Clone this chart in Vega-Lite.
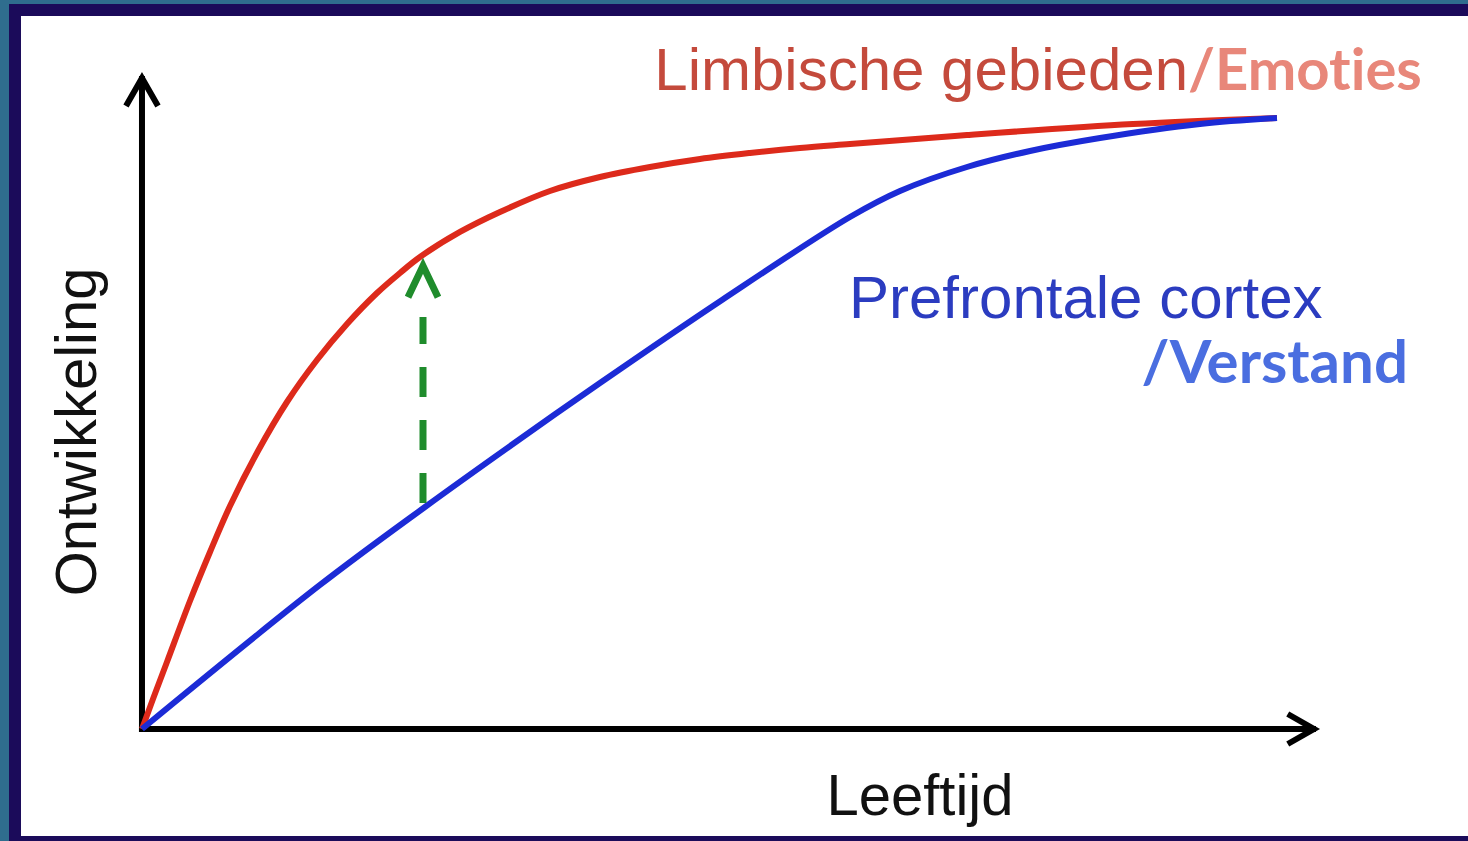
{
  "$schema": "https://vega.github.io/schema/vega-lite/v6.json",
  "width": 1459,
  "height": 837,
  "autosize": {"type": "none"},
  "padding": {"left": 9, "top": 4, "right": 0, "bottom": 0},
  "background": "#2f6d8e",
  "config": {"view": {"fill": "#1b0b5a", "stroke": null}},
  "datasets": {
    "curves": [
      {"curve": "Limbische gebieden", "leeftijd": 0, "ontwikkeling": 0},
      {"curve": "Limbische gebieden", "leeftijd": 0.234, "ontwikkeling": 4.57},
      {"curve": "Limbische gebieden", "leeftijd": 0.531, "ontwikkeling": 10.2},
      {"curve": "Limbische gebieden", "leeftijd": 1.02, "ontwikkeling": 19.48},
      {"curve": "Limbische gebieden", "leeftijd": 1.446, "ontwikkeling": 26.94},
      {"curve": "Limbische gebieden", "leeftijd": 1.871, "ontwikkeling": 33.94},
      {"curve": "Limbische gebieden", "leeftijd": 2.466, "ontwikkeling": 42.31},
      {"curve": "Limbische gebieden", "leeftijd": 3.082, "ontwikkeling": 49.77},
      {"curve": "Limbische gebieden", "leeftijd": 3.72, "ontwikkeling": 56.16},
      {"curve": "Limbische gebieden", "leeftijd": 4.358, "ontwikkeling": 61.64},
      {"curve": "Limbische gebieden", "leeftijd": 4.996, "ontwikkeling": 66.36},
      {"curve": "Limbische gebieden", "leeftijd": 5.485, "ontwikkeling": 69.41},
      {"curve": "Limbische gebieden", "leeftijd": 5.91, "ontwikkeling": 71.84},
      {"curve": "Limbische gebieden", "leeftijd": 6.76, "ontwikkeling": 75.65},
      {"curve": "Limbische gebieden", "leeftijd": 7.61, "ontwikkeling": 78.69},
      {"curve": "Limbische gebieden", "leeftijd": 8.673, "ontwikkeling": 81.89},
      {"curve": "Limbische gebieden", "leeftijd": 9.736, "ontwikkeling": 84.02},
      {"curve": "Limbische gebieden", "leeftijd": 10.799, "ontwikkeling": 85.54},
      {"curve": "Limbische gebieden", "leeftijd": 11.862, "ontwikkeling": 86.76},
      {"curve": "Limbische gebieden", "leeftijd": 12.925, "ontwikkeling": 87.67},
      {"curve": "Limbische gebieden", "leeftijd": 13.988, "ontwikkeling": 88.43},
      {"curve": "Limbische gebieden", "leeftijd": 15.051, "ontwikkeling": 89.04},
      {"curve": "Limbische gebieden", "leeftijd": 17.538, "ontwikkeling": 90.41},
      {"curve": "Limbische gebieden", "leeftijd": 21.067, "ontwikkeling": 92.09},
      {"curve": "Limbische gebieden", "leeftijd": 24.128, "ontwikkeling": 93.0},
      {"curve": "Prefrontale cortex", "leeftijd": 0, "ontwikkeling": 0},
      {"curve": "Prefrontale cortex", "leeftijd": 3.784, "ontwikkeling": 21.92},
      {"curve": "Prefrontale cortex", "leeftijd": 6.016, "ontwikkeling": 33.79},
      {"curve": "Prefrontale cortex", "leeftijd": 8.036, "ontwikkeling": 44.14},
      {"curve": "Prefrontale cortex", "leeftijd": 9.736, "ontwikkeling": 52.66},
      {"curve": "Prefrontale cortex", "leeftijd": 12.33, "ontwikkeling": 65.3},
      {"curve": "Prefrontale cortex", "leeftijd": 15.051, "ontwikkeling": 77.93},
      {"curve": "Prefrontale cortex", "leeftijd": 16.114, "ontwikkeling": 81.89},
      {"curve": "Prefrontale cortex", "leeftijd": 17.538, "ontwikkeling": 85.54},
      {"curve": "Prefrontale cortex", "leeftijd": 18.878, "ontwikkeling": 87.98},
      {"curve": "Prefrontale cortex", "leeftijd": 20.366, "ontwikkeling": 89.95},
      {"curve": "Prefrontale cortex", "leeftijd": 22.491, "ontwikkeling": 92.09},
      {"curve": "Prefrontale cortex", "leeftijd": 24.128, "ontwikkeling": 93.0}
    ],
    "one": [{}]
  },
  "layer": [
    {
      "data": {"name": "one"},
      "mark": {"type": "rect", "color": "#ffffff"},
      "encoding": {
        "x": {"datum": -2.572, "type": "quantitative", "axis": null, "scale": {"domain": [-2.827, 28.189], "nice": false, "zero": false}},
        "x2": {"datum": 28.189},
        "y": {"datum": -16.29, "type": "quantitative", "axis": null, "scale": {"domain": [-17.05, 110.35], "nice": false, "zero": false}},
        "y2": {"datum": 108.52}
      }
    },
    {
      "data": {"name": "one"},
      "mark": {"type": "rule", "color": "#000000", "strokeWidth": 6},
      "encoding": {
        "x": {"datum": -0.064, "type": "quantitative", "axis": null, "scale": {"domain": [-2.827, 28.189], "nice": false, "zero": false}},
        "x2": {"datum": 24.957},
        "y": {"datum": 0, "type": "quantitative", "axis": null, "scale": {"domain": [-17.05, 110.35], "nice": false, "zero": false}}
      }
    },
    {
      "data": {"name": "one"},
      "mark": {"type": "rule", "color": "#000000", "strokeWidth": 6},
      "encoding": {
        "x": {"datum": 0, "type": "quantitative", "axis": null, "scale": {"domain": [-2.827, 28.189], "nice": false, "zero": false}},
        "y": {"datum": -0.457, "type": "quantitative", "axis": null, "scale": {"domain": [-17.05, 110.35], "nice": false, "zero": false}},
        "y2": {"datum": 99.4}
      }
    },
    {
      "data": {"name": "one"},
      "mark": {"type": "point", "shape": "M-1,1.75L0,0L1,1.75", "filled": false, "color": "#000000", "strokeWidth": 6, "size": 1024, "opacity": 1, "strokeJoin": "miter"},
      "encoding": {
        "x": {"datum": 0, "type": "quantitative", "axis": null, "scale": {"domain": [-2.827, 28.189], "nice": false, "zero": false}},
        "y": {"datum": 99.09, "type": "quantitative", "axis": null, "scale": {"domain": [-17.05, 110.35], "nice": false, "zero": false}}
      }
    },
    {
      "data": {"name": "one"},
      "mark": {"type": "point", "shape": "M-1,1.75L0,0L1,1.75", "filled": false, "color": "#000000", "strokeWidth": 6, "size": 900, "opacity": 1, "strokeJoin": "miter", "angle": 90},
      "encoding": {
        "x": {"datum": 24.915, "type": "quantitative", "axis": null, "scale": {"domain": [-2.827, 28.189], "nice": false, "zero": false}},
        "y": {"datum": 0, "type": "quantitative", "axis": null, "scale": {"domain": [-17.05, 110.35], "nice": false, "zero": false}}
      }
    },
    {
      "data": {"name": "curves"},
      "transform": [{"filter": "datum.curve === 'Limbische gebieden'"}],
      "mark": {"type": "line", "color": "#dd2a1b", "strokeWidth": 6, "interpolate": "catmull-rom"},
      "encoding": {
        "x": {"field": "leeftijd", "type": "quantitative", "axis": null, "scale": {"domain": [-2.827, 28.189], "nice": false, "zero": false}},
        "y": {"field": "ontwikkeling", "type": "quantitative", "axis": null, "scale": {"domain": [-17.05, 110.35], "nice": false, "zero": false}}
      }
    },
    {
      "data": {"name": "curves"},
      "transform": [{"filter": "datum.curve === 'Prefrontale cortex'"}],
      "mark": {"type": "line", "color": "#1c2bd6", "strokeWidth": 6, "interpolate": "catmull-rom"},
      "encoding": {
        "x": {"field": "leeftijd", "type": "quantitative", "axis": null, "scale": {"domain": [-2.827, 28.189], "nice": false, "zero": false}},
        "y": {"field": "ontwikkeling", "type": "quantitative", "axis": null, "scale": {"domain": [-17.05, 110.35], "nice": false, "zero": false}}
      }
    },
    {
      "data": {"name": "one"},
      "mark": {"type": "rule", "color": "#1f8c2c", "strokeWidth": 7, "strokeDash": [30, 23]},
      "encoding": {
        "x": {"datum": 5.974, "type": "quantitative", "axis": null, "scale": {"domain": [-2.827, 28.189], "nice": false, "zero": false}},
        "y": {"datum": 34.4, "type": "quantitative", "axis": null, "scale": {"domain": [-17.05, 110.35], "nice": false, "zero": false}},
        "y2": {"datum": 62.71}
      }
    },
    {
      "data": {"name": "one"},
      "mark": {"type": "point", "shape": "M-1,2.1L0,0L1,2.1", "filled": false, "color": "#1f8c2c", "strokeWidth": 7, "size": 900, "opacity": 1, "strokeJoin": "miter"},
      "encoding": {
        "x": {"datum": 5.974, "type": "quantitative", "axis": null, "scale": {"domain": [-2.827, 28.189], "nice": false, "zero": false}},
        "y": {"datum": 70.5, "type": "quantitative", "axis": null, "scale": {"domain": [-17.05, 110.35], "nice": false, "zero": false}}
      }
    },
    {
      "data": {"name": "one"},
      "mark": {"type": "text", "text": "Limbische gebieden", "font": "Liberation Sans", "fontSize": 60, "color": "#c44a3c", "align": "right", "baseline": "alphabetic"},
      "encoding": {
        "x": {"datum": 22.237, "type": "quantitative", "axis": null, "scale": {"domain": [-2.827, 28.189], "nice": false, "zero": false}},
        "y": {"datum": 97.26, "type": "quantitative", "axis": null, "scale": {"domain": [-17.05, 110.35], "nice": false, "zero": false}}
      }
    },
    {
      "data": {"name": "one"},
      "mark": {"type": "text", "text": "/Emot\u200cies", "font": "Lato", "fontWeight": "bold", "fontSize": 58, "color": "#e8877a", "align": "left", "baseline": "alphabetic"},
      "encoding": {
        "x": {"datum": 22.237, "type": "quantitative", "axis": null, "scale": {"domain": [-2.827, 28.189], "nice": false, "zero": false}},
        "y": {"datum": 97.26, "type": "quantitative", "axis": null, "scale": {"domain": [-17.05, 110.35], "nice": false, "zero": false}}
      }
    },
    {
      "data": {"name": "one"},
      "mark": {"type": "text", "text": "Prefrontale cortex", "font": "Liberation Sans", "fontSize": 60, "color": "#2b3cc0", "align": "left", "baseline": "alphabetic"},
      "encoding": {
        "x": {"datum": 15.03, "type": "quantitative", "axis": null, "scale": {"domain": [-2.827, 28.189], "nice": false, "zero": false}},
        "y": {"datum": 62.56, "type": "quantitative", "axis": null, "scale": {"domain": [-17.05, 110.35], "nice": false, "zero": false}}
      }
    },
    {
      "data": {"name": "one"},
      "mark": {"type": "text", "text": "/Verstand", "font": "Lato", "fontWeight": "bold", "fontSize": 60, "color": "#4a6ee0", "align": "right", "baseline": "alphabetic"},
      "encoding": {
        "x": {"datum": 26.913, "type": "quantitative", "axis": null, "scale": {"domain": [-2.827, 28.189], "nice": false, "zero": false}},
        "y": {"datum": 52.66, "type": "quantitative", "axis": null, "scale": {"domain": [-17.05, 110.35], "nice": false, "zero": false}}
      }
    },
    {
      "data": {"name": "one"},
      "mark": {"type": "text", "text": "Ontwikkeling", "font": "Liberation Sans", "fontSize": 58, "color": "#111111", "align": "center", "baseline": "alphabetic", "angle": 270},
      "encoding": {
        "x": {"datum": -0.978, "type": "quantitative", "axis": null, "scale": {"domain": [-2.827, 28.189], "nice": false, "zero": false}},
        "y": {"datum": 45.21, "type": "quantitative", "axis": null, "scale": {"domain": [-17.05, 110.35], "nice": false, "zero": false}}
      }
    },
    {
      "data": {"name": "one"},
      "mark": {"type": "text", "text": "Leeftijd", "font": "Liberation Sans", "fontSize": 58, "color": "#111111", "align": "center", "baseline": "alphabetic"},
      "encoding": {
        "x": {"datum": 16.539, "type": "quantitative", "axis": null, "scale": {"domain": [-2.827, 28.189], "nice": false, "zero": false}},
        "y": {"datum": -13.09, "type": "quantitative", "axis": null, "scale": {"domain": [-17.05, 110.35], "nice": false, "zero": false}}
      }
    }
  ]
}
